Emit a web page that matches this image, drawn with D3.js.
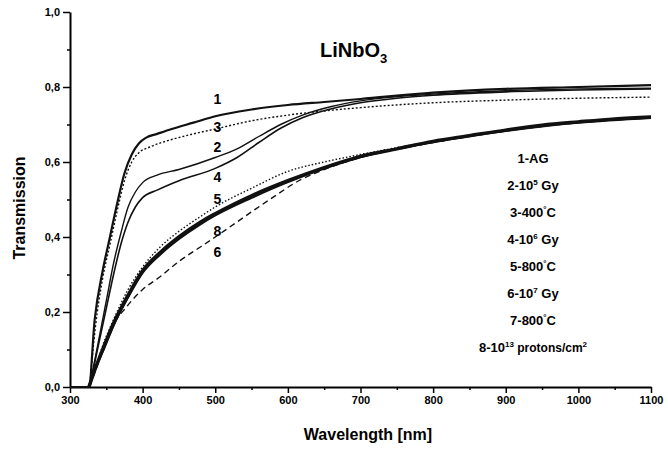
<!DOCTYPE html>
<html>
<head>
<meta charset="utf-8">
<script src="https://cdn.jsdelivr.net/npm/d3@7"></script>
<style>
  body { margin: 0; background: #fff; }
  svg { font-family: "Liberation Sans", Arial, sans-serif; }
</style>
</head>
<body>
<svg id="chart" width="668" height="451"></svg>
<script>
"use strict";

// wavelength [nm], transmission
const curve1 = [[300,0],[326,0],[334,0.18],[345,0.31],[355,0.40],[365,0.49],[375,0.57],[385,0.62],[395,0.65],[405,0.665],[420,0.675],[440,0.688],[470,0.705],[500,0.722],[550,0.74],[600,0.752],[650,0.76],[700,0.768],[800,0.785],[900,0.795],[1000,0.80],[1100,0.805]];
const curve2 = [[327,0],[340,0.13],[350,0.23],[360,0.33],[370,0.41],[380,0.48],[390,0.52],[400,0.545],[420,0.565],[450,0.58],[500,0.612],[530,0.635],[560,0.668],[590,0.70],[620,0.725],[660,0.748],[700,0.763],[750,0.774],[800,0.781],[900,0.79],[1000,0.795],[1100,0.797]];
const curve3 = [[327,0],[335,0.16],[345,0.29],[355,0.38],[365,0.47],[375,0.55],[385,0.60],[395,0.625],[410,0.64],[440,0.66],[470,0.675],[500,0.688],[550,0.71],[600,0.725],[700,0.745],[800,0.758],[900,0.765],[1000,0.77],[1100,0.773]];
const curve4 = [[327,0],[340,0.12],[350,0.21],[360,0.30],[370,0.38],[380,0.44],[390,0.48],[400,0.505],[420,0.525],[450,0.55],[500,0.583],[530,0.612],[560,0.652],[590,0.69],[620,0.718],[660,0.742],[700,0.758],[750,0.77],[800,0.778],[900,0.787],[1000,0.792],[1100,0.795]];
const curve5 = [[326,0],[335,0.05],[345,0.11],[360,0.18],[380,0.26],[400,0.32],[425,0.375],[450,0.415],[480,0.455],[500,0.48],[550,0.53],[600,0.575],[650,0.60],[700,0.62],[800,0.655],[900,0.685],[1000,0.707],[1100,0.72]];
const curve6 = [[327,0],[340,0.07],[355,0.15],[378,0.214],[400,0.26],[424,0.294],[450,0.335],[480,0.374],[500,0.40],[550,0.467],[575,0.50],[617,0.552],[650,0.58],[700,0.612],[800,0.652],[900,0.683],[1000,0.705],[1100,0.718]];
const curve7 = [[326,0],[335,0.05],[345,0.095],[360,0.165],[380,0.24],[400,0.305],[425,0.355],[450,0.395],[480,0.435],[500,0.458],[550,0.505],[600,0.547],[650,0.583],[700,0.613],[800,0.653],[900,0.683],[1000,0.705],[1100,0.718]];
const curve8 = [[326,0],[335,0.05],[345,0.10],[360,0.17],[380,0.245],[400,0.31],[425,0.36],[450,0.40],[480,0.44],[500,0.462],[550,0.51],[600,0.55],[650,0.585],[700,0.615],[750,0.635],[800,0.655],[850,0.67],[900,0.685],[950,0.698],[1000,0.707],[1050,0.715],[1100,0.72]];

const curveLabels = ["1", "3", "2", "4", "5", "8", "6"];
const legendItems = [
  ["1-AG"],
  ["2-10", "5", " Gy"],
  ["3-400", "°", "C"],
  ["4-10", "6", " Gy"],
  ["5-800", "°", "C"],
  ["6-10", "7", " Gy"],
  ["7-800", "°", "C"],
  ["8-10", "13", " protons/cm", "2"]
];
const xTicks = [300, 400, 500, 600, 700, 800, 900, 1000, 1100];
const xMinor = [350, 450, 550, 650, 750, 850, 950, 1050];
const yTicks = [0, 0.2, 0.4, 0.6, 0.8, 1.0];
const yMinor = [0.1, 0.3, 0.5, 0.7, 0.9];

const svg = d3.select("#chart");
const x = d3.scaleLinear().domain([300, 1100]).range([70, 651]);
const y = d3.scaleLinear().domain([0, 1]).range([387, 12]);
const fmt = d => d3.format(".1f")(d).replace(".", ",");

// axes
svg.append("g").attr("transform", "translate(0," + y(0) + ")")
  .call(d3.axisBottom(x).tickValues(xTicks).tickSize(6).tickSizeOuter(0).tickPadding(3).tickFormat(d3.format("d")));
svg.append("g").attr("transform", "translate(0," + y(0) + ")")
  .call(d3.axisBottom(x).tickValues(xMinor).tickSize(3).tickSizeOuter(0).tickFormat(""))
  .select(".domain").remove();
svg.append("g").attr("transform", "translate(" + x(300) + ",0)")
  .call(d3.axisLeft(y).tickValues(yTicks).tickSize(7).tickSizeOuter(0).tickPadding(3).tickFormat(fmt));
svg.append("g").attr("transform", "translate(" + x(300) + ",0)")
  .call(d3.axisLeft(y).tickValues(yMinor).tickSize(3).tickSizeOuter(0).tickFormat(""))
  .select(".domain").remove();

svg.selectAll(".domain").attr("stroke", "#000").attr("stroke-width", 2);
svg.selectAll(".tick line").attr("stroke", "#000").attr("stroke-width", 1.5);
svg.selectAll(".tick text").attr("font-family", "Liberation Sans, Arial, sans-serif")
  .attr("font-size", 11).attr("font-weight", "bold").attr("fill", "#000");

// curves
const line = d3.line().x(d => x(d[0])).y(d => y(d[1])).curve(d3.curveMonotoneX);
const series = [
  { data: curve1, w: 2.2, dash: null },
  { data: curve2, w: 1.4, dash: null },
  { data: curve3, w: 1.4, dash: "2,2" },
  { data: curve4, w: 1.6, dash: null },
  { data: curve5, w: 1.4, dash: "1.5,2" },
  { data: curve6, w: 1.4, dash: "6,4" },
  { data: curve7, w: 2.5, dash: null },
  { data: curve8, w: 3.5, dash: null }
];
svg.append("g").selectAll("path").data(series).join("path")
  .attr("d", d => line(d.data))
  .attr("fill", "none")
  .attr("stroke", "#111")
  .attr("stroke-width", d => d.w)
  .attr("stroke-dasharray", d => d.dash);

// curve number labels
const labelY = [0.767, 0.692, 0.64, 0.56, 0.5, 0.415, 0.36];
svg.append("g").selectAll("text").data(curveLabels).join("text")
  .attr("x", x(503))
  .attr("y", (d, i) => y(labelY[i]))
  .attr("dy", "0.35em")
  .attr("text-anchor", "middle")
  .attr("font-size", 14).attr("font-weight", "bold")
  .text(d => d);

// title
const title = svg.append("text").attr("x", 320).attr("y", 57)
  .attr("font-size", 20).attr("font-weight", "bold");
title.append("tspan").text("LiNbO");
title.append("tspan").attr("font-size", 13).attr("dy", 6).text("3");

// legend
const leg = svg.append("g").selectAll("text").data(legendItems).join("text")
  .attr("x", 533)
  .attr("y", (d, i) => 158 + i * 27)
  .attr("dy", "0.35em")
  .attr("text-anchor", "middle")
  .attr("font-size", 13).attr("font-weight", "bold");
leg.each(function (d) {
  const t = d3.select(this);
  d.forEach((part, j) => {
    const sup = j % 2 === 1;
    t.append("tspan")
      .attr("font-size", sup ? 8 : (j === 2 && d.length > 3 ? 12 : 13))
      .attr("baseline-shift", sup ? "60%" : null)
      .text(part);
  });
});

// axis titles
svg.append("text").attr("x", 368).attr("y", 440)
  .attr("text-anchor", "middle").attr("font-size", 16).attr("font-weight", "bold")
  .text("Wavelength [nm]");
svg.append("text").attr("transform", "translate(25,208) rotate(-90)")
  .attr("text-anchor", "middle").attr("font-size", 16).attr("font-weight", "bold")
  .text("Transmission");
</script>
</body>
</html>
